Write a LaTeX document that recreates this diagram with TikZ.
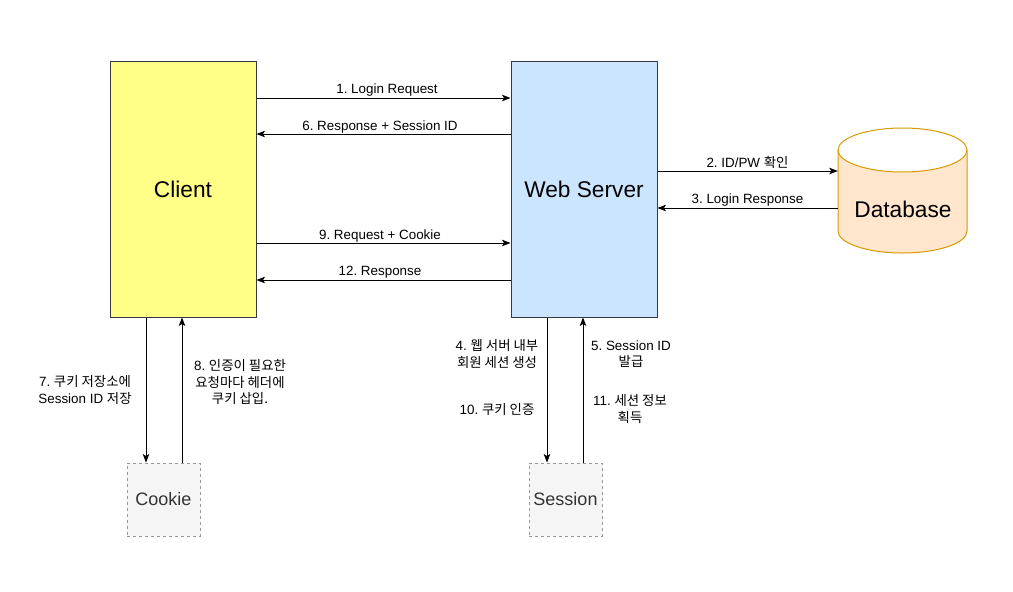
\documentclass[tikz,border=0pt]{standalone}
\usepackage{fontspec}
\setmainfont{Liberation Sans}
\newfontfamily\kr{Noto Sans CJK KR}
\usetikzlibrary{arrows.meta}
\frenchspacing
\definecolor{clientfill}{HTML}{FFFF88}
\definecolor{serverfill}{HTML}{CCE5FF}
\definecolor{dbfill}{HTML}{FFE6CC}
\definecolor{dbline}{HTML}{D79B00}
\definecolor{boxline}{HTML}{36393D}
\definecolor{storefill}{HTML}{F5F5F5}
\definecolor{storeline}{HTML}{999999}
\definecolor{storetext}{HTML}{333333}
\begin{document}
\frenchspacing
\begin{tikzpicture}[x=1pt,y=-1pt,
 bigbox/.style={draw=boxline, line width=1pt, minimum width=146pt, minimum height=256pt, font=\fontsize{22.7}{26}\selectfont, inner sep=0},
 store/.style={draw=storeline, dash pattern=on 3pt off 3pt, line width=0.9pt, fill=storefill, minimum width=73pt, minimum height=73pt, font=\fontsize{18}{22}\selectfont, text=storetext, inner sep=0},
 arr/.style={-{Stealth[length=8.5pt,width=6.5pt,inset=2pt]}, line width=0.9pt},
 lbl/.style={font=\fontsize{13.4}{16.5}\selectfont\frenchspacing, align=center, inner sep=0}]
\fill[white] (0,0) rectangle (1013,592);
\useasboundingbox (0,0) rectangle (1013,592);

\node[bigbox, fill=clientfill] (client) at (183,189) {Client};
\node[bigbox, fill=serverfill] (web) at (584,189) {Web Server};

% database cylinder
\fill[dbfill] (838,150) -- (838,231) arc[start angle=180, end angle=360, x radius=64.5, y radius=-22] -- (967,150) arc[start angle=0, end angle=180, x radius=64.5, y radius=22] -- cycle;
\draw[dbline, line width=1pt] (838,150) -- (838,231) arc[start angle=180, end angle=360, x radius=64.5, y radius=-22] -- (967,150);
\draw[dbline, line width=1pt] (902.5,150) ellipse[x radius=64.5, y radius=22];
\node[minimum width=129pt, minimum height=125pt, inner sep=0] (db) at (902.5,190.5) {};
\node[font=\fontsize{22.7}{26}\selectfont] (dbtext) at (903,209) {Database};

\node[store] (cookie) at (163.5,499.5) {Cookie};
\node[store] (session) at (565.5,499.5) {Session};

% client <-> web
\draw[arr] (client.east |- 0,98) -- (web.west |- 0,98);
\node[lbl] (l1) at (387,90) {1. Login Request};
\draw[arr] (web.west |- 0,134) -- (client.east |- 0,134);
\node[lbl] (l6) at (380,127) {6. Response + Session ID};
\draw[arr] (client.east |- 0,243) -- (web.west |- 0,243);
\node[lbl] (l9) at (380,236) {9. Request + Cookie};
\draw[arr] (web.west |- 0,280) -- (client.east |- 0,280);
\node[lbl] (l12) at (380,272) {12. Response};

% web <-> db
\draw[arr] (web.east |- 0,171) -- (db.west |- 0,171);
\node[lbl] (l2) at (747.5,162) {2. ID/PW {\kr 확인}};
\draw[arr] (db.west |- 0,208) -- (web.east |- 0,208);
\node[lbl] (l3) at (747.5,200) {3. Login Response};

% client <-> cookie
\draw[arr] (client.south -| 146,0) -- (cookie.north -| 146,0);
\draw[arr] (cookie.north -| 182,0) -- (client.south -| 182,0);
\node[lbl] (l7) at (85,390) {7. {\kr 쿠키 저장소에}\\Session ID {\kr 저장}};
\node[lbl] (l8) at (240,382) {8. {\kr 인증이 필요한}\\{\kr 요청마다 헤더에}\\{\kr 쿠키 삽입.}};

% web <-> session
\draw[arr] (web.south -| 547,0) -- (session.north -| 547,0);
\draw[arr] (session.north -| 583,0) -- (web.south -| 583,0);
\node[lbl] (l4) at (497,354) {4. {\kr 웹 서버 내부}\\{\kr 회원 세션 생성}};
\node[lbl] (l10) at (497,409) {10. {\kr 쿠키 인증}};
\node[lbl] (l5) at (631,354) {5. Session ID\\{\kr 발급}};
\node[lbl] (l11) at (630,409) {11. {\kr 세션 정보}\\{\kr 획득}};
\end{tikzpicture}
\end{document}
